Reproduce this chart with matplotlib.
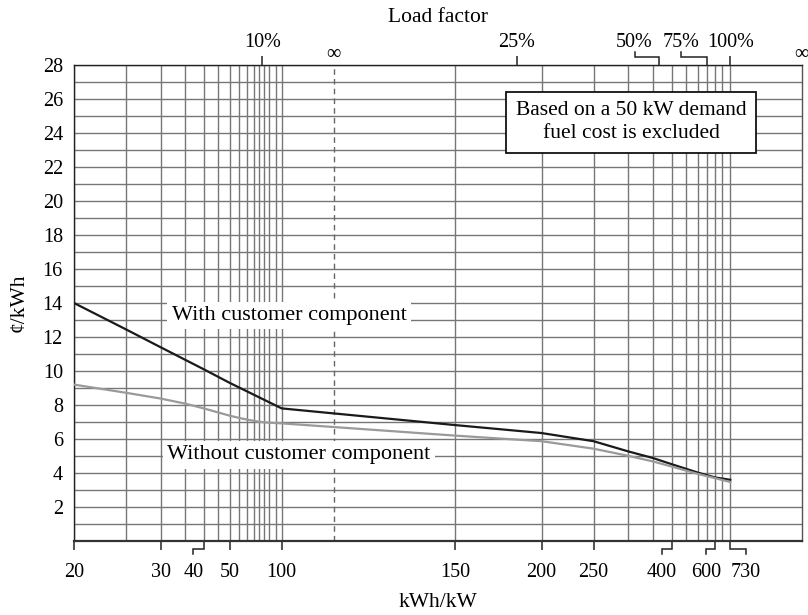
import matplotlib
matplotlib.use('Agg')
import matplotlib.pyplot as plt
import matplotlib.transforms as mtransforms
import numpy as np

plt.rcParams['font.family'] = ['Liberation Serif', 'DejaVu Serif']
dpi = 100

# kWh/kW axis: labelled ticks and the extra grid lines
x_major = [20, 30, 40, 50, 100, 150, 200, 250, 400, 600, 730]
x_major_labels = ['20', '30', '40', '50', '100', '150', '200', '250', '400', '600', '730']
x_minor = [25, 35, 45, 55, 60, 65, 70, 75, 80, 90, 300, 350, 450, 500, 550, 650]

# load factor on the top axis (kWh/kW at 730 h a month)
lf_values = [73, 182.5, 365, 547.5, 730]
lf_labels = ['10%', '25%', '50%', '75%', '100%']

# cents per kWh
with_x = [20, 25, 30, 40, 50, 100, 150, 200, 250, 300, 350, 400, 500, 600, 730]
with_y = [14.0, 12.45, 11.4, 10.1, 9.3, 7.8, 6.82, 6.35, 5.87, 5.27, 4.88, 4.52, 4.03, 3.74, 3.6]
without_x = [20, 25, 30, 35, 40, 45, 50, 55, 60, 70, 80, 100, 150, 200, 250, 300, 350, 400,
             500, 600, 730]
without_y = [9.2, 8.72, 8.38, 8.08, 7.8, 7.56, 7.37, 7.24, 7.14, 7.01, 6.96, 6.92, 6.2, 5.87,
             5.43, 5.01, 4.68, 4.38, 3.95, 3.7, 3.47]

# two reciprocal scales joined at 100 kWh/kW
L_K, L_INF = 5192.0, 259.6
R_K, R_INF = 51982.0, 727.5


def fwd(x):
    x = np.asarray(x, dtype=float)
    with np.errstate(divide='ignore', invalid='ignore'):
        left = L_INF - L_K / x
        right = R_INF - R_K / x
    return np.where(x <= 100, left, right)


def inv(u):
    u = np.asarray(u, dtype=float)
    with np.errstate(divide='ignore', invalid='ignore'):
        left = L_K / (L_INF - u)
        right = R_K / (R_INF - u)
    return np.where(u <= L_INF - L_K / 100, left, right)


fig = plt.figure(figsize=(808 / dpi, 615 / dpi), dpi=dpi)
ax = fig.add_axes([74 / 808, 1 - 541 / 615, 727.5 / 808, 476 / 615])

ax.plot(with_x, with_y, color='#1a1a1a', lw=1.6, zorder=3)
ax.plot(without_x, without_y, color='#9a9a9a', lw=1.6, zorder=3)

ax.set_xscale('function', functions=(fwd, inv))
xlim = (20, 1e9)
ax.set_xlim(xlim)
ax.set_ylim(0, 28)

ax.set_xticks(x_major, x_major_labels)
ax.set_xticks(x_minor, minor=True)
ax.set_yticks(range(2, 29, 2))
ax.set_yticks(range(1, 28, 2), minor=True)
ax.grid(which='both', color='#767676', lw=1.0)
ax.set_axisbelow(True)

tick_col = '#222222'
ax.tick_params(axis='x', which='major', direction='out', length=6.5, width=1.1,
               color=tick_col, labelsize=14.5, pad=9)
ax.tick_params(axis='both', which='minor', length=0)
ax.tick_params(axis='y', which='major', length=0, labelsize=14.5, pad=8)

for side in ['left', 'top']:
    ax.spines[side].set_color('#222222')
    ax.spines[side].set_linewidth(1.0)
ax.spines['bottom'].set_color('#333333')
ax.spines['bottom'].set_linewidth(1.6)
ax.spines['right'].set_color('#555555')
ax.spines['right'].set_linewidth(1.0)

# dashed line where the left-hand reciprocal scale reaches infinity
x_inf_left = float(inv(L_INF - 1e-6))
ax.axvline(x_inf_left, color='#666666', lw=1.0, ls=(0, (4, 3)), zorder=1)

ax.set_xlabel('kWh/kW', fontsize=15.5, labelpad=8)
ax.set_ylabel('¢/kWh', fontsize=15.5, labelpad=10)

# top axis: load factor
ax2 = ax.twiny()
ax2.set_xscale('function', functions=(fwd, inv))
ax2.set_xlim(xlim)
ax2.set_xticks(lf_values, lf_labels)
ax2.set_xticks([], minor=True)
ax2.tick_params(axis='x', which='major', direction='out', length=6.5, width=1.1,
                color=tick_col, labelsize=14.5, pad=3)
for s in ax2.spines.values():
    s.set_visible(False)
ax2.set_xlabel('Load factor', fontsize=15.5, labelpad=8)


def bracket(a, x, dx_px, top=False):
    base = mtransforms.blended_transform_factory(a.transData, a.transAxes)
    trans = fig.dpi_scale_trans + mtransforms.ScaledTranslation(x, 1 if top else 0, base)
    s = 1 if top else -1
    px = np.array([0, 0, dx_px, dx_px]) / dpi
    py = s * np.array([0, 8, 8, 13]) / dpi
    a.plot(px, py, transform=trans, clip_on=False, color=tick_col, lw=1.1,
           solid_joinstyle='miter')


def shift(label, dx_px):
    label.set_transform(label.get_transform() +
                        mtransforms.ScaledTranslation(dx_px / dpi, 0, fig.dpi_scale_trans))


# bottom labels moved off their ticks
bottom_shift = {40: -10.5, 400: -9.5, 600: -8.5, 730: 15.5}
for tick, val in zip(ax.xaxis.get_major_ticks(), x_major):
    if val in bottom_shift:
        tick.tick1line.set_visible(False)
        shift(tick.label1, bottom_shift[val])
        bracket(ax, val, bottom_shift[val])

top_shift = {365: -24.5, 547.5: -25.5}
for tick, val in zip(ax2.xaxis.get_major_ticks(), lf_values):
    if val in top_shift:
        tick.tick2line.set_visible(False)
        shift(tick.label2, top_shift[val])
        bracket(ax2, val, top_shift[val], top=True)

# infinity marks above the axis
inf_trans = mtransforms.blended_transform_factory(ax.transData, ax.transAxes)
ax.text(x_inf_left, 1.003, '∞', transform=inf_trans, ha='center', va='bottom',
        fontsize=14.5, clip_on=False)
ax.text(1.0, 1.003, '∞', transform=ax.transAxes, ha='center', va='bottom',
        fontsize=14.5, clip_on=False)

ax.text(0.2955, 0.4737, 'With customer component', transform=ax.transAxes,
        ha='center', va='center', fontsize=16, zorder=4,
        bbox=dict(facecolor='white', edgecolor='none', pad=3))
ax.text(0.3093, 0.1807, 'Without customer component', transform=ax.transAxes,
        ha='center', va='center', fontsize=16, zorder=4,
        bbox=dict(facecolor='white', edgecolor='none', pad=3))
ax.text(0.7656, 0.880, 'Based on a 50 kW demand\nfuel cost is excluded',
        transform=ax.transAxes, ha='center', va='center', fontsize=15.5,
        linespacing=1.25, zorder=4,
        bbox=dict(boxstyle='square,pad=0.45', facecolor='white',
                  edgecolor='#111111', lw=1.3))

fig.savefig('out.png', dpi=dpi)
